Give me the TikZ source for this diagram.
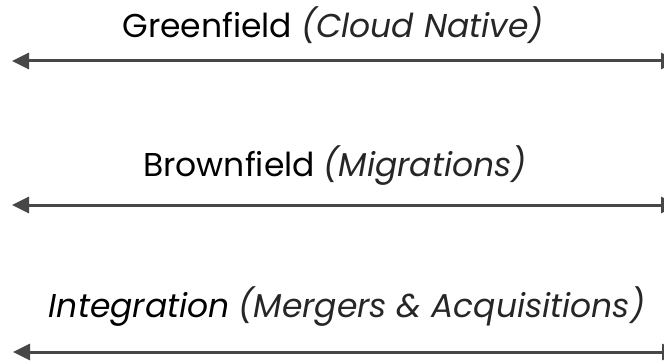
\documentclass[tikz,border=0pt]{standalone}
\usepackage{fontspec}
\setmainfont{Poppins}
\usetikzlibrary{arrows.meta}
\begin{document}
\begin{tikzpicture}[x=1pt,y=1pt,
  lbl/.style={font=\fontsize{33}{40}\selectfont, text=black, inner sep=0pt},
  span/.style={draw=black!72, line width=3pt, {Triangle[length=17pt,width=16pt]}-{Triangle[length=17pt,width=16pt]}}]
\useasboundingbox (0,0) rectangle (664,362);
\node[lbl] (g) at (333,337) {Greenfield \textit{\color{black!85}(Cloud Native)}};
\node[lbl] (b) at (335,196) {Brownfield \textit{\color{black!85}(Migrations)}};
\node[lbl] (i) at (347,55) {\textit{Integration} \textit{\color{black!85}(Mergers \& Acquisitions)}};
\coordinate (gl) at (12,301); \coordinate (gr) at (678,301);
\coordinate (bl) at (12,157); \coordinate (br) at (678,157);
\coordinate (il) at (13,10); \coordinate (ir) at (679,10);
\draw[span] (gl) -- (gr);
\draw[span] (bl) -- (br);
\draw[span] (il) -- (ir);
\end{tikzpicture}
\end{document}
